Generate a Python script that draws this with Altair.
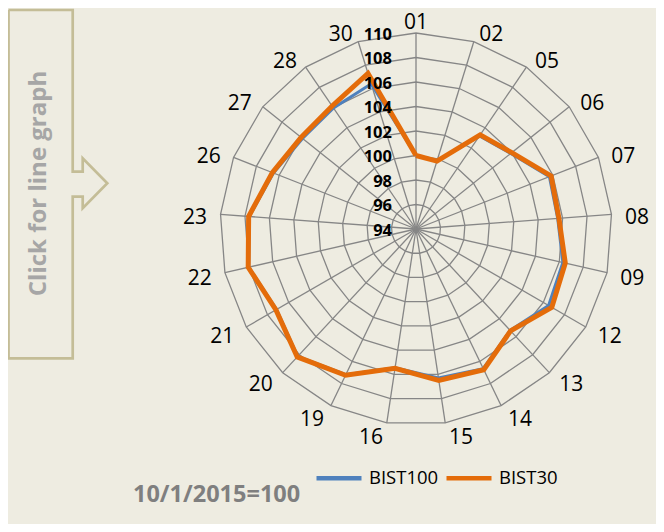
import altair as alt
import pandas as pd

# ---------------- data ----------------
categories = ["01", "02", "05", "06", "07", "08", "09", "12", "13", "14", "15",
              "16", "19", "20", "21", "22", "23", "26", "27", "28", "30"]
bist100 = [100.0, 99.8, 103.2, 103.9, 105.7, 105.6, 106.3, 106.5, 105.3, 106.65, 106.3,
           105.45, 107.2, 108.2, 107.15, 108.0, 107.65, 106.5, 105.85, 105.95, 106.4]
bist30 = [100.0, 99.8, 103.3, 104.0, 105.85, 105.7, 106.5, 106.8, 105.35, 106.75, 106.5,
          105.5, 107.25, 108.25, 107.2, 108.05, 107.7, 106.6, 106.0, 106.15, 107.3]
ring_levels = [94, 96, 98, 100, 102, 104, 106, 108, 110]
series_names = ["BIST100", "BIST30"]
series_colors = ["#4F81BD", "#E46C0A"]
note_text = "10/1/2015=100"
button_text = "Click for line graph"

# ---------------- layout constants ----------------
W, H = 648, 516
CX, CY, R = 408, 221, 196
VMIN, VMAX = ring_levels[0], ring_levels[-1]
N = len(categories)
BG = "#EEECE1"
GRID = "#868686"
FONT = "Open Sans"

ANG = f"datum.idx * 2 * PI / {N}"
RAD = f"(datum.value - {VMIN}) / {VMAX - VMIN} * {R}"

xs = alt.Scale(domain=[0, W], nice=False, zero=False)
ys = alt.Scale(domain=[0, H], nice=False, zero=False, reverse=True)


def polar(chart):
    return chart.transform_calculate(ang=ANG).transform_calculate(rad=RAD).transform_calculate(
        x=f"{CX} + datum.rad * sin(datum.ang)",
        y=f"{CY} - datum.rad * cos(datum.ang)",
    )


# series table (closed polygon)
rows = []
for name, vals in zip(series_names, [bist100, bist30]):
    for i in range(N + 1):
        rows.append({"series": name, "idx": i, "cat": categories[i % N], "value": vals[i % N]})
series_df = pd.DataFrame(rows)

# ring grid table
grid_rows = []
for lv in ring_levels[1:]:
    for i in range(N + 1):
        grid_rows.append({"level": lv, "idx": i, "value": lv})
grid_df = pd.DataFrame(grid_rows)

spoke_df = pd.DataFrame({"idx": list(range(N)), "cat": categories})
ring_df = pd.DataFrame({"level": ring_levels, "value": ring_levels})

X = alt.X("x:Q", scale=xs, axis=None)
Y = alt.Y("y:Q", scale=ys, axis=None)

rings = polar(alt.Chart(grid_df)).mark_line(color=GRID, strokeWidth=1.3).encode(
    x=X, y=Y, detail="level:N", order="idx:Q"
)

spokes = (
    alt.Chart(spoke_df)
    .transform_calculate(ang=ANG)
    .transform_calculate(
        x=f"{CX}", y=f"{CY}",
        x2=f"{CX} + {R} * sin(datum.ang)",
        y2=f"{CY} - {R} * cos(datum.ang)",
    )
    .mark_rule(color=GRID, strokeWidth=1.3)
    .encode(x=X, y=Y, x2="x2:Q", y2="y2:Q")
)

color_enc = alt.Color(
    "series:N",
    scale=alt.Scale(domain=series_names, range=series_colors),
    legend=alt.Legend(
        orient="none", legendX=306, legendY=445, direction="horizontal", title=None,
        symbolType="stroke", symbolSize=2025, symbolStrokeWidth=4.5,
        labelFont=FONT, labelFontSize=18.5, labelColor="#000000", labelOffset=5,
        columnPadding=-2, padding=0,
    ),
)

line_blue = polar(alt.Chart(series_df)).transform_filter(
    alt.datum.series == series_names[0]
).mark_line(strokeWidth=3).encode(x=X, y=Y, color=color_enc, order="idx:Q")

line_orange = polar(alt.Chart(series_df)).transform_filter(
    alt.datum.series == series_names[1]
).mark_line(strokeWidth=5).encode(x=X, y=Y, color=color_enc, order="idx:Q")

ring_labels = (
    polar(alt.Chart(ring_df).transform_calculate(idx="0"))
    .transform_calculate(lx=f"{CX} - 24", ly="datum.y + 1.5")
    .mark_text(align="right", baseline="middle", font=FONT, fontWeight="bold",
               fontSize=16.5, color="#000000")
    .encode(x=alt.X("lx:Q", scale=xs, axis=None), y=alt.Y("ly:Q", scale=ys, axis=None),
            text="level:N")
)

cat_labels = (
    alt.Chart(spoke_df)
    .transform_calculate(ang=ANG)
    .transform_calculate(s="sin(datum.ang)", c="cos(datum.ang)")
    .transform_calculate(
        lx=f"{CX} + {R} * datum.s + (abs(datum.s) < 0.01 ? 0 : (datum.s > 0 ? 1 : -1) * (14 + 11.5 * abs(datum.s)))",
        ly=f"abs(datum.s) < 0.01 ? 14.5 : {CY} - {R} * datum.c - 11 * datum.c + 4",
    )
    .mark_text(align="center", baseline="middle", font=FONT, fontSize=21, color="#000000")
    .encode(x=alt.X("lx:Q", scale=xs, axis=None), y=alt.Y("ly:Q", scale=ys, axis=None),
            text="cat:N")
)

# decorative "button" arrow outline (page decoration)
arrow_px = [0.5, 64.7, 64.7, 74.7, 74.7, 99.3, 74.7, 74.7, 64.7, 64.7, 0.5, 0.5]
arrow_py = [2.0, 2.0, 163.7, 163.7, 150.3, 175.3, 200.3, 188.7, 188.7, 350.3, 350.3, 2.0]
arrow_df = pd.DataFrame({"x": arrow_px, "y": arrow_py, "k": list(range(len(arrow_px)))})
arrow = alt.Chart(arrow_df).mark_line(color="#C4BD97", strokeWidth=2.7).encode(
    x=X, y=Y, order="k:Q"
)

button = alt.Chart(pd.DataFrame({"t": [button_text]})).mark_text(
    angle=270, align="center", baseline="middle", font=FONT, fontWeight="bold",
    fontSize=24, color="#A6A6A6"
).encode(x=alt.value(31), y=alt.value(175.5), text="t:N")

note = alt.Chart(pd.DataFrame({"t": [note_text]})).mark_text(
    align="left", baseline="middle", font=FONT, fontWeight="bold", fontSize=23.5,
    color="#7F7F7F"
).encode(x=alt.value(125), y=alt.value(487), text="t:N")

chart = (
    alt.layer(rings, spokes, line_blue, line_orange, ring_labels, cat_labels, arrow, button, note)
    .properties(width=W, height=H, background=BG, padding=0,
                autosize=alt.AutoSizeParams(type="none"))
    .configure_view(stroke=None)
)

chart.save("out.html", embed_options={"renderer": "svg", "actions": False})
